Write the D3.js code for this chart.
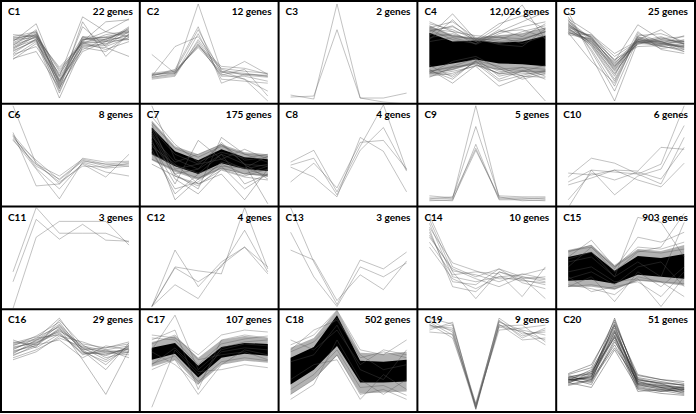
<!DOCTYPE html>
<html><head><meta charset="utf-8">
<script src="https://cdn.jsdelivr.net/npm/d3@7"></script>
<style>html,body{margin:0;padding:0;background:#fff;}svg{display:block;}</style>
</head><body><svg id="chart" width="696" height="414"></svg>
<script>
const timepoints = [0, 1, 2, 3, 4, 5];
const clusterNames = ["C1","C2","C3","C4","C5","C6","C7","C8","C9","C10","C11","C12","C13","C14","C15","C16","C17","C18","C19","C20"];
const geneCounts = ["22 genes","12 genes","2 genes","12,026 genes","25 genes","8 genes","175 genes","4 genes","5 genes","6 genes","3 genes","4 genes","3 genes","10 genes","903 genes","29 genes","107 genes","502 genes","9 genes","51 genes"];

// expression profiles (relative level, 0 = panel floor, 100 = panel ceiling)
const c1 = [[60,78,20,62,65,70],[55,65,15,60,62,72],[50,62,10,58,60,67],[65,70,25,85,70,65],[45,60,3,55,58,64],[58,67,30,60,80,82],[62,64,22,62,64,70],[53,68,18,65,57,74],[48,63,14,50,60,62],[42,58,28,59,52,60],[56,72,12,80,45,68],[64,66,32,58,67,71],[51,61,16,64,62,73],[59,69,20,56,54,45],[67,65,24,61,70,83],[54,62,8,63,61,66],[47,55,21,52,63,69],[61,70,17,75,55,64],[57,64,34,59,60,75],[43,50,13,54,50,67],[63,67,26,65,64,62],[52,66,19,57,56,70]];
const c2 = [[27,28,98,30,28,25],[26,30,72,28,40,27],[25,55,65,32,26,24],[47,28,60,27,22,0],[24,27,58,25,25,20],[28,31,55,33,30,28],[23,26,68,22,20,18],[26,29,56,35,33,27],[22,25,62,30,22,10],[27,30,54,29,27,26],[25,32,75,18,27,25],[24,28,57,26,32,5]];
const c3 = [[6,2,98,3,3,8],[4,5,72,3,-1,-3]];
const c4Upper = [69,60,61,59,60,66];
const c4Lower = [34,38,42,38,37,35];
const c4HaloUpper = [76,67,64,66,68,74];
const c4HaloLower = [27,31,38,31,29,28];
const c4 = [[76,65,63,66,68,74],[78,72,62,62,70,76],[27,32,40,30,28,27],[25,28,36,32,34,25],[74,80,64,60,62,70],[30,35,43,25,30,30],[72,62,58,72,65,78],[28,40,45,33,22,28],[66,88,62,58,62,70],[62,82,60,65,58,66],[64,68,60,75,97,62],[68,66,62,78,86,72],[60,64,58,70,80,90],[32,18,36,28,34,32],[36,24,40,22,30,36],[30,34,38,20,26,0],[26,30,35,15,24,30],[73,70,57,68,75,80],[29,26,39,27,31,22],[71,75,63,57,55,73],[80,70,66,64,63,70],[24,34,37,28,26,31],[70,76,60,70,72,64],[31,22,41,35,25,24]];
const c5 = [[80,62,38,60,58,56],[75,65,35,62,60,58],[72,60,30,58,57,55],[78,55,20,65,60,52],[83,68,40,77,62,60],[70,58,28,60,63,65],[67,63,42,55,56,50],[85,50,10,63,58,55],[74,66,45,60,55,58],[90,45,0,60,65,57],[76,64,36,58,62,60],[71,61,33,62,59,54],[79,57,25,70,52,48],[68,67,48,61,57,62],[73,59,32,59,61,59],[82,52,15,68,60,53],[69,62,39,57,64,58],[77,64,37,63,53,56],[74,56,22,66,68,60],[70,60,34,61,58,66],[81,63,31,64,59,50],[72,65,41,60,56,61],[76,58,27,62,72,57],[78,61,35,59,60,54],[69,40,18,65,55,52]];
const c6 = [[99,40,28,45,40,42],[70,42,20,40,27,50],[68,38,25,44,38,40],[72,18,20,46,42,43],[65,35,5,42,36,38],[66,44,24,43,40,38],[69,36,15,41,32,28],[64,40,22,38,37,41]];
const c7Upper = [77,53,44,55,47,45];
const c7Lower = [50,38,30,41,35,33];
const c7HaloUpper = [84,58,50,60,52,50];
const c7HaloLower = [44,32,24,35,30,27];
const c7 = [[99,45,35,50,40,38],[60,20,64,45,35,40],[55,10,30,50,20,30],[65,4,25,40,30,38],[70,25,10,35,28,35],[72,30,15,67,50,42],[58,40,20,30,4,35],[62,30,35,62,40,0],[75,35,40,45,55,45],[68,42,50,60,40,25],[80,28,18,38,15,30],[52,15,22,42,36,48],[82,56,47,58,50,48],[45,34,26,36,30,29],[76,50,40,60,44,47],[50,39,31,38,36,28],[88,60,42,52,46,50],[40,28,20,34,27,24]];
const c8 = [[42,54,12,58,100,34],[39,46,9,54,77,33],[37,27,7,67,53,12],[22,41,16,62,64,35]];
const c9 = [[6,5,99,6,6,5],[8,6,78,8,7,7],[4,3,60,4,4,3],[5,7,56,5,5,6],[3,4,54,7,3,4]];
const c10 = [[-4,34,32,30,40,99],[31,29,34,33,57,55],[27,46,41,30,20,67],[22,34,9,28,35,79],[19,26,34,24,17,41],[4,31,24,32,25,57]];
const c11 = [[35,100,74,74,74,65],[25,88,68,83,67,66],[-2,70,86,86,86,62]];
const c12 = [[0,57,20,45,60,40],[0,22,8,42,60,33],[0,40,36,33,100,38],[0,39,25,40,77,35]];
const c13 = [[100,45,2,47,38,55],[75,30,0,40,30,44],[57,47,6,32,17,46]];
const c14 = [[92,40,30,38,30,25],[88,35,8,35,27,22],[84,30,25,30,32,38],[80,44,36,28,28,30],[75,25,22,38,24,18],[70,38,28,20,30,27],[65,32,35,33,10,40],[60,28,18,30,26,24],[78,20,15,35,29,8],[72,36,32,25,33,28]];
const c15Upper = [50,55,36,51,49,53];
const c15Lower = [26,27,23,32,30,28];
const c15HaloUpper = [57,62,42,58,56,62];
const c15HaloLower = [20,20,17,26,24,21];
const c15 = [[50,67,40,60,58,65],[45,50,30,90,85,50],[40,60,35,55,60,94],[30,15,20,25,10,35],[20,30,5,35,20,40],[35,40,25,28,0,30],[55,62,38,70,65,75],[22,18,12,30,25,10],[48,55,30,45,30,85],[28,35,22,40,45,20],[56,60,40,56,54,58],[20,22,18,27,25,23]];
const c16 = [[62,68,80,62,58,60],[58,66,85,58,55,62],[65,70,78,55,60,64],[55,63,90,65,52,58],[60,72,75,60,62,66],[68,65,82,50,15,60],[52,60,72,63,57,55],[64,74,88,58,48,62],[57,67,79,66,62,68],[70,62,76,56,58,57],[61,69,84,61,54,63],[54,65,70,52,64,60],[66,71,92,60,45,65],[59,64,81,64,59,58],[63,67,77,57,56,61],[56,70,86,62,50,64],[50,58,74,68,60,52],[67,73,83,59,40,67]];
const c17Upper = [62,67,44,63,67,66];
const c17Lower = [50,56,32,52,56,54];
const c17HaloUpper = [68,74,52,70,74,72];
const c17HaloLower = [43,50,25,45,49,47];
const c17 = [[60,95,40,60,66,64],[2,60,35,58,62,60],[70,80,20,70,75,72],[40,50,15,45,60,55],[75,72,55,75,80,78],[45,62,38,40,45,42],[58,45,25,62,68,70],[66,75,50,55,58,50],[72,70,45,66,71,74],[46,54,28,48,52,49]];
const c18Upper = [52,63,95,49,48,50];
const c18Lower = [25,40,64,27,27,28];
const c18HaloUpper = [62,72,100,57,56,58];
const c18HaloLower = [15,30,54,16,17,18];
const c18 = [[65,75,100,60,55,70],[15,30,55,15,20,10],[70,60,80,45,60,55],[10,25,70,30,15,30],[60,80,90,55,40,45],[30,45,50,10,35,20],[58,68,92,52,58,52],[20,35,60,22,24,14],[48,55,85,40,30,60]];
const c19 = [[85,80,2,88,80,75],[88,75,0,85,78,70],[82,85,5,90,72,82],[90,78,3,84,85,68],[80,88,1,92,76,78],[86,72,4,80,82,85],[84,82,0,86,70,72],[78,76,6,89,74,80],[92,86,2,83,79,65]];
const c20 = [[30,32,92,28,22,20],[28,35,85,25,20,18],[32,30,78,30,25,22],[26,38,72,22,18,20],[34,28,88,32,28,24],[29,40,80,26,22,16],[31,25,68,34,30,26],[27,33,75,20,16,14],[33,36,82,28,24,22],[25,30,65,24,21,19],[35,42,90,30,26,25],[30,27,70,18,20,17],[28,34,77,27,23,21],[32,38,84,23,19,15],[24,29,62,29,27,24],[30,31,73,25,22,20],[36,45,86,35,30,28],[27,22,60,21,18,23],[31,36,79,31,26,18],[29,33,74,26,24,21]];

const profiles = [c1,c2,c3,c4,c5,c6,c7,c8,c9,c10,c11,c12,c13,c14,c15,c16,c17,c18,c19,c20];
const bands = {
  3: [c4Upper, c4Lower, c4HaloUpper, c4HaloLower],
  6: [c7Upper, c7Lower, c7HaloUpper, c7HaloLower],
  14: [c15Upper, c15Lower, c15HaloUpper, c15HaloLower],
  16: [c17Upper, c17Lower, c17HaloUpper, c17HaloLower],
  17: [c18Upper, c18Lower, c18HaloUpper, c18HaloLower]
};

const svg = d3.select("#chart");
const cols = 5, rows = 4;
const colX = d3.scaleLinear().domain([0, cols]).range([1, 695]);
const rowY = d3.scaleLinear().domain([0, rows]).range([1, 412]);

profiles.forEach((lines, i) => {
  const c = i % cols, r = Math.floor(i / cols);
  const x0 = colX(c), x1 = colX(c + 1), y0 = rowY(r), y1 = rowY(r + 1);
  const g = svg.append("g");
  const clipId = "clip" + i;
  svg.append("clipPath").attr("id", clipId).append("rect")
    .attr("x", x0 + 1).attr("y", y0 + 1).attr("width", x1 - x0 - 2).attr("height", y1 - y0 - 2);
  const x = d3.scaleLinear().domain([0, 5]).range([x0 + 12, x0 + 128]);
  const y = d3.scaleLinear().domain([0, 100]).range([y0 + 100, y0 + 1]);
  const cg = g.append("g").attr("clip-path", `url(#${clipId})`);
  const line = d3.line().x((d, k) => x(timepoints[k])).y(d => y(d));
  const dense = bands[i];
  if (dense) {
    const halo = d3.area().x((d, k) => x(timepoints[k])).y0((d, k) => y(dense[3][k])).y1(d => y(d));
    cg.append("path").attr("d", halo(dense[2])).attr("fill", "#000").attr("fill-opacity", 0.3);
    const area = d3.area().x((d, k) => x(timepoints[k])).y0((d, k) => y(dense[1][k])).y1(d => y(d));
    cg.append("path").attr("d", area(dense[0])).attr("fill", "#000");
  }
  const op = lines.length > 15 ? 0.5 : 0.45;
  cg.selectAll("path.p").data(lines).join("path").attr("class", "p")
    .attr("d", line).attr("fill", "none").attr("stroke", i === 19 ? "#222" : "#555")
    .attr("stroke-width", 0.8).attr("stroke-opacity", op);
  g.append("text").attr("x", x0 + 7).attr("y", y0 + 14).text(clusterNames[i])
    .attr("font-family", "Lato, 'Open Sans', sans-serif").attr("font-weight", "bold").attr("font-size", 10).attr("fill", "#000");
  g.append("text").attr("x", x1 - 7).attr("y", y0 + 14).attr("text-anchor", "end").text(geneCounts[i])
    .attr("font-family", "Lato, 'Open Sans', sans-serif").attr("font-weight", "bold").attr("font-size", 10).attr("fill", "#000");
});

// panel grid
const grid = svg.append("g").attr("stroke", "#000").attr("stroke-width", 2);
d3.range(cols + 1).forEach(c => grid.append("line").attr("x1", colX(c)).attr("x2", colX(c)).attr("y1", 0).attr("y2", 413));
d3.range(rows + 1).forEach(r => grid.append("line").attr("y1", rowY(r)).attr("y2", rowY(r)).attr("x1", 0).attr("x2", 696));
</script></body></html>
